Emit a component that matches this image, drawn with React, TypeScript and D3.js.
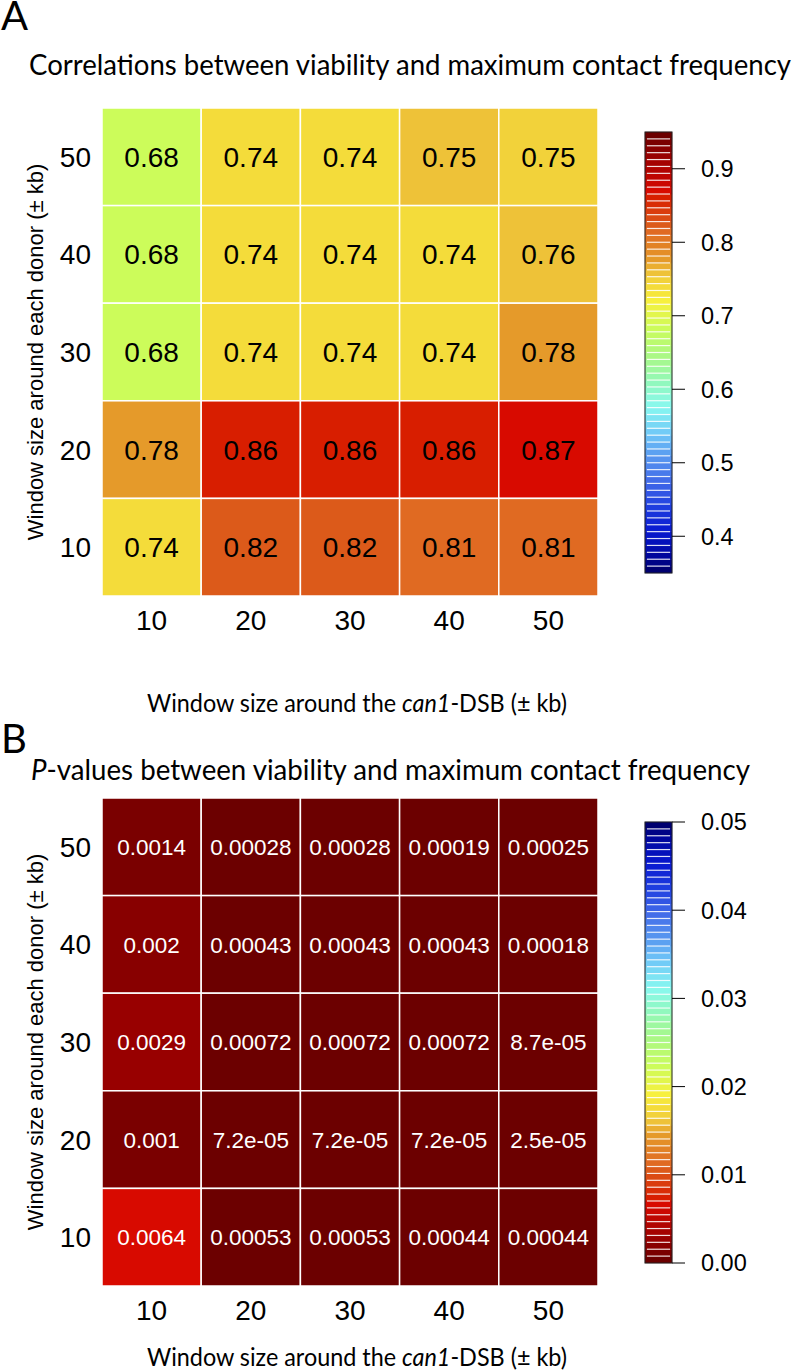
import React from "react";
import * as d3 from "d3";

// ---------- data ----------
const xCategories = [10, 20, 30, 40, 50];
const yCategories = [50, 40, 30, 20, 10]; // top to bottom

// correlation values (rows follow yCategories, columns follow xCategories)
const corrRow50 = [0.68, 0.741, 0.741, 0.754, 0.746];
const corrRow40 = [0.68, 0.742, 0.741, 0.741, 0.76];
const corrRow30 = [0.68, 0.739, 0.739, 0.739, 0.78];
const corrRow20 = [0.78, 0.86, 0.86, 0.86, 0.87];
const corrRow10 = [0.74, 0.82, 0.82, 0.81, 0.81];
const corrValues = [corrRow50, corrRow40, corrRow30, corrRow20, corrRow10];

// p-values
const pRow50 = [0.0014, 0.00028, 0.00028, 0.00019, 0.00025];
const pRow40 = [0.002, 0.00043, 0.00043, 0.00043, 0.00018];
const pRow30 = [0.0029, 0.00072, 0.00072, 0.00072, 8.7e-5];
const pRow20 = [0.001, 7.2e-5, 7.2e-5, 7.2e-5, 2.5e-5];
const pRow10 = [0.0064, 0.00053, 0.00053, 0.00044, 0.00044];
const pValues = [pRow50, pRow40, pRow30, pRow20, pRow10];

const corrDomain = [0.35, 0.95];
const pDomain = [0, 0.05];
const corrTicks = [0.4, 0.5, 0.6, 0.7, 0.8, 0.9];
const pTicks = [0, 0.01, 0.02, 0.03, 0.04, 0.05];
const nColors = 64;

// palette stops (position 0 = dark blue, 1 = dark red)
const stopPos = [0, 0.034, 0.087, 0.147, 0.2, 0.26, 0.313, 0.374, 0.426, 0.487, 0.555, 0.62, 0.651, 0.667, 0.683, 0.714, 0.778, 0.794, 0.857, 0.873, 0.952, 0.968, 0.984, 1];
const stopCol = ["#000070", "#0008a0", "#0818d0", "#2040e0", "#4068e8", "#5898f0", "#70c8f8", "#88f8f0", "#90f8c0", "#a8f888", "#ccfc5a", "#f8f03e", "#f4dc3a", "#f2d23a", "#eec238", "#e59a2a", "#e06a22", "#dc5a1a", "#d81e00", "#d80a00", "#980000", "#880000", "#7a0000", "#6c0000"];

// ---------- helpers ----------
const palScale = d3.scaleLinear<string>().domain(stopPos).range(stopCol).interpolate(d3.interpolateRgb);
const palette = d3.range(nColors).map((i) => palScale(i / (nColors - 1)));

function fmtP(v: number): string {
  if (v < 1e-4) {
    const s = v.toExponential(1); // 7.2e-5
    return s.replace(/e-(\d)$/, "e-0$1");
  }
  return String(Number(v.toPrecision(2)));
}

const W = 796;
const H = 1371;
const X0 = 102;
const X1 = 598;
const PANEL_OFF = 690;
const TOP = 108;
const BOT = 596;
const CB_X = 645;
const CB_W = 27;
const CB_TOP = 132;
const CB_BOT = 573;
const numFont = "'Liberation Sans', Arial, sans-serif";
const titleFont = "Lato, 'Open Sans', sans-serif";

type PanelCfg = {
  kind: "corr" | "p";
  off: number;
  letterY: number;
  titleY: number;
  titleX: number;
  titleLen: number;
  xTitleY: number;
};

const panelA: PanelCfg = { kind: "corr", off: 0, letterY: 30, titleY: 75, titleX: 29, titleLen: 762, xTitleY: 712 };
const panelB: PanelCfg = { kind: "p", off: PANEL_OFF, letterY: 753, titleY: 780, titleX: 31, titleLen: 719, xTitleY: 1366 };

function Panel({ cfg }: { cfg: PanelCfg }) {
  const { kind, off } = cfg;
  const xScale = d3.scaleBand<number>().domain(xCategories).range([X0, X1]);
  const yScale = d3.scaleBand<number>().domain(yCategories).range([TOP + off, BOT + off]);
  const domain = kind === "corr" ? corrDomain : pDomain;
  const values = kind === "corr" ? corrValues : pValues;
  const ticks = kind === "corr" ? corrTicks : pTicks;
  const cbScale = d3.scaleLinear().domain(domain).range([CB_BOT + off, CB_TOP + off]);
  const binScale = d3.scaleQuantize<number>().domain(domain).range(d3.range(nColors));
  const colorOf = (v: number) => {
    const b = binScale(v);
    return kind === "corr" ? palette[b] : palette[nColors - 1 - b];
  };
  const step = (domain[1] - domain[0]) / nColors;
  const stripes = d3.range(nColors).map((i) => ({
    lo: domain[0] + i * step,
    hi: domain[0] + (i + 1) * step,
    color: kind === "corr" ? palette[i] : palette[nColors - 1 - i],
  }));
  const cellFont = kind === "corr" ? 28 : 22.5;
  const cellColor = kind === "corr" ? "#000" : "#fff";
  const tickFmt = kind === "corr" ? (t: number) => t.toFixed(1) : (t: number) => t.toFixed(2);

  return (
    <g>
      {/* panel letter */}
      <text x={1} y={cfg.letterY} fontFamily={titleFont} fontSize={40} fill="#000">
        {kind === "corr" ? "A" : "B"}
      </text>
      {/* title */}
      {kind === "corr" ? (
        <text x={cfg.titleX} y={cfg.titleY} fontFamily={titleFont} fontSize={29} fill="#000" textLength={cfg.titleLen} lengthAdjust="spacingAndGlyphs">
          Correlations between viability and maximum contact frequency
        </text>
      ) : (
        <text x={cfg.titleX} y={cfg.titleY} fontFamily={titleFont} fontSize={29} fill="#000" textLength={cfg.titleLen} lengthAdjust="spacingAndGlyphs">
          <tspan fontStyle="italic">P</tspan>-values between viability and maximum contact frequency
        </text>
      )}
      {/* cells */}
      {yCategories.map((yc, r) =>
        xCategories.map((xc, c) => {
          const v = values[r][c];
          const x = xScale(xc)!;
          const y = yScale(yc)!;
          return (
            <g key={`${r}-${c}`}>
              <rect x={x} y={y} width={xScale.bandwidth()} height={yScale.bandwidth()} fill={colorOf(v)} stroke="#fff" strokeWidth={1.5} />
              <text
                x={x + xScale.bandwidth() / 2}
                y={y + yScale.bandwidth() / 2}
                dy="0.36em"
                textAnchor="middle"
                fontFamily={numFont}
                fontSize={cellFont}
                fill={cellColor}
              >
                {kind === "corr" ? v.toFixed(2) : fmtP(v)}
              </text>
            </g>
          );
        })
      )}
      {/* y tick labels */}
      {yCategories.map((yc) => (
        <text key={yc} x={91} y={yScale(yc)! + yScale.bandwidth() / 2} dy="0.36em" textAnchor="end" fontFamily={numFont} fontSize={28} fill="#000">
          {yc}
        </text>
      ))}
      {/* x tick labels */}
      {xCategories.map((xc) => (
        <text key={xc} x={xScale(xc)! + xScale.bandwidth() / 2} y={BOT + off + 24} dy="0.36em" textAnchor="middle" fontFamily={numFont} fontSize={28} fill="#000">
          {xc}
        </text>
      ))}
      {/* y title */}
      <text transform={`translate(43,${352 + off}) rotate(-90)`} textAnchor="middle" fontFamily={numFont} fontSize={22} fill="#000">
        Window size around each donor (± kb)
      </text>
      {/* x title */}
      <text x={357} y={cfg.xTitleY} textAnchor="middle" fontFamily={titleFont} fontSize={25} fill="#000" textLength={420} lengthAdjust="spacingAndGlyphs">
        Window size around the <tspan fontStyle="italic">can1</tspan>-DSB (± kb)
      </text>
      {/* colour bar */}
      {stripes.map((s, i) => (
        <rect key={i} x={CB_X} y={cbScale(s.hi)} width={CB_W} height={cbScale(s.lo) - cbScale(s.hi)} fill={s.color} stroke={s.color} strokeWidth={0.3} />
      ))}
      {stripes.slice(1).map((s, i) => (
        <line key={`w${i}`} x1={CB_X + 2} x2={CB_X + CB_W - 2} y1={cbScale(s.lo)} y2={cbScale(s.lo)} stroke="#fff" strokeOpacity={0.85} strokeWidth={1.2} />
      ))}
      <rect x={CB_X} y={CB_TOP + off} width={CB_W} height={CB_BOT - CB_TOP} fill="none" stroke="#222" strokeWidth={1} />
      {ticks.map((t) => (
        <g key={t}>
          <line x1={CB_X + CB_W} x2={CB_X + CB_W + 13} y1={cbScale(t)} y2={cbScale(t)} stroke="#000" strokeWidth={1} />
          <text x={701} y={cbScale(t)} dy="0.36em" fontFamily={numFont} fontSize={23.5} fill="#000">
            {tickFmt(t)}
          </text>
        </g>
      ))}
    </g>
  );
}

export default function App() {
  return (
    <svg width={W} height={H} viewBox={`0 0 ${W} ${H}`} style={{ position: "absolute", left: 0, top: 0, background: "#fff" }}>
      <rect x={0} y={0} width={W} height={H} fill="#fff" />
      <Panel cfg={panelA} />
      <Panel cfg={panelB} />
    </svg>
  );
}
